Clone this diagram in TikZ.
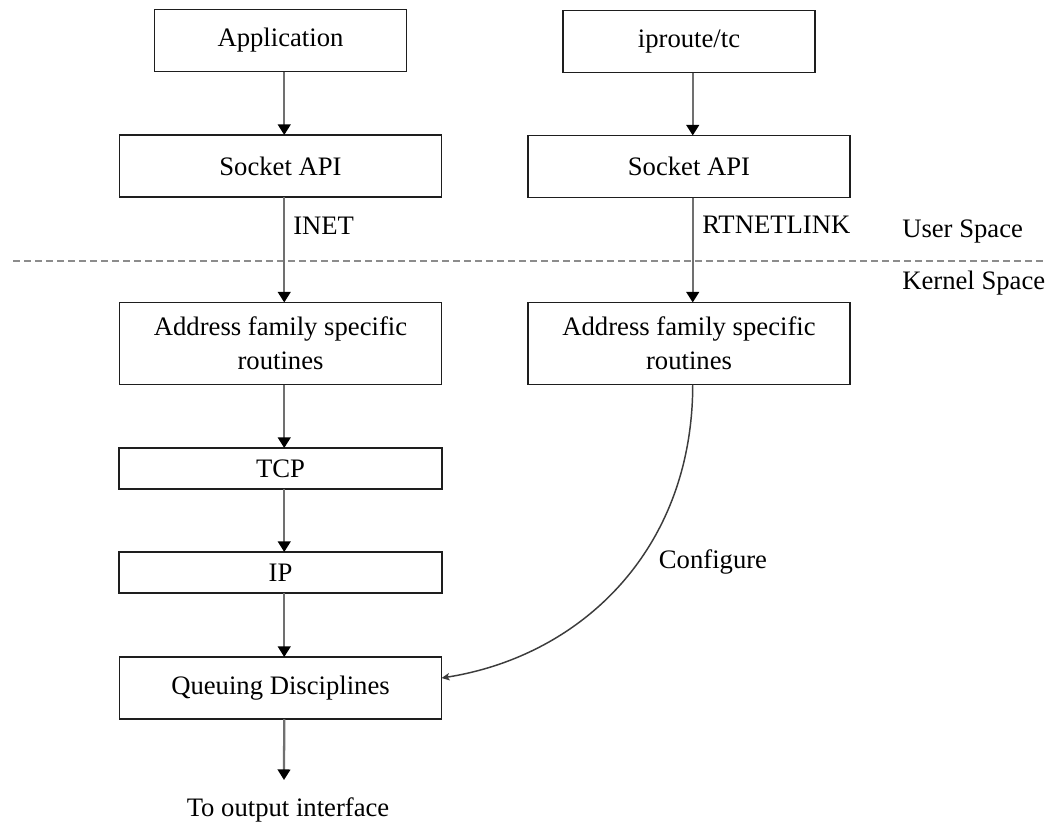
\documentclass[tikz,border=0pt]{standalone}
\usepackage{fontspec}
\setmainfont{Liberation Serif}
\usetikzlibrary{arrows.meta}
\definecolor{linkgray}{RGB}{112,112,112}
\definecolor{sepgray}{RGB}{140,140,140}
\definecolor{curvegray}{RGB}{60,60,60}
\definecolor{boxline}{RGB}{30,30,30}
\begin{document}
\begin{tikzpicture}[x=0.75pt,y=-0.75pt,
  box/.style={draw=boxline, line width=1.1pt, fill=white, inner sep=0pt, outer sep=0pt,
    align=center, font=\fontsize{20}{25.5}\selectfont},
  narrow/.style={box, minimum width=189pt, minimum height=46.5pt},
  wide/.style={box, minimum width=241.5pt, minimum height=46.5pt},
  thin/.style={box, minimum width=242pt, minimum height=30.75pt},
  tall/.style={box, minimum width=241.5pt, minimum height=61.5pt},
  lbl/.style={inner sep=0pt, font=\fontsize{20}{24}\selectfont},
  flow/.style={draw=linkgray, line width=1.7pt, -{Triangle[length=7.9pt,width=9.4pt,black]}},
  sepline/.style={draw=sepgray, line width=1.6pt, dash pattern=on 5.25pt off 3pt},
  cfgline/.style={draw=curvegray, line width=1.1pt, -{Stealth[length=6pt,width=5.5pt,inset=1.5pt]}}
]
\def\ax{2.8pt}
\fill[white] (0,0) rectangle (1057,826);
\useasboundingbox (0,0) rectangle (1057,826);

% user / kernel boundary
\coordinate (sepL) at (13,261);
\coordinate (sepR) at (1043,261);
\draw[sepline] (sepL) -- (sepR);

% left column: data path
\node[narrow] (app)   at (280.5,40.5)  {Application};
\node[wide]   (sockL) at (280.5,166)   {Socket API};
\node[tall]   (addrL) at (280.5,343.5) {Address family specific\\routines};
\node[thin]   (tcp)   at (280.5,468.5) {TCP};
\node[thin]   (ip)    at (280.5,572.5) {IP};
\node[wide]   (qd)    at (280.5,688)   {Queuing Disciplines};

% right column: control path
\node[narrow] (ipr)   at (689,41.5)    {iproute/tc};
\node[wide]   (sockR) at (689,166.5)   {Socket API};
\node[tall]   (addrR) at (689,343.5)   {Address family specific\\routines};

% labels
\node[lbl, anchor=west] (inet) at (293,226) {INET};
\node[lbl, anchor=west] (rtnl) at (702,225) {RTNETLINK};
\node[lbl, anchor=west] (us)   at (902,232) {User Space};
\node[lbl, anchor=west] (ks)   at (902,283) {Kernel Space};
\node[lbl] (cfg) at (713,562) {Configure};
\node[lbl] (out) at (288,810) {To output interface};
\coordinate (outTip) at (284,780);

% connectors
\draw[flow] ([xshift=\ax]app.south)   -- ([xshift=\ax]sockL.north);
\draw[flow] ([xshift=\ax]sockL.south) -- ([xshift=\ax]addrL.north);
\draw[flow] ([xshift=\ax]addrL.south) -- ([xshift=\ax]tcp.north);
\draw[flow] ([xshift=\ax]tcp.south)   -- ([xshift=\ax]ip.north);
\draw[flow] ([xshift=\ax]ip.south)    -- ([xshift=\ax]qd.north);
\draw[flow] ([xshift=\ax]qd.south)    -- (outTip);
\draw[flow] ([xshift=\ax]ipr.south)   -- ([xshift=\ax]sockR.north);
\draw[flow] ([xshift=\ax]sockR.south) -- ([xshift=\ax]addrR.north);
\draw[cfgline] ([xshift=\ax]addrR.south) .. controls +(0,165) and +(140,-22) .. ([yshift=7.5pt]qd.east);
\end{tikzpicture}
\end{document}
